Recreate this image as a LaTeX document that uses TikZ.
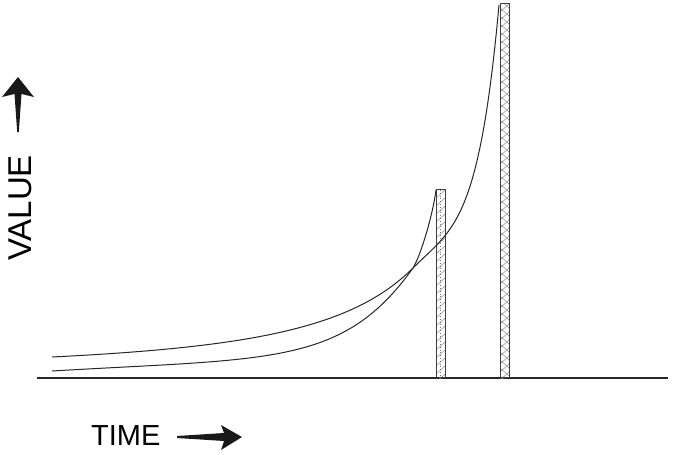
\documentclass[tikz,border=0pt]{standalone}
\usepackage{fontspec}
\setmainfont{Liberation Sans}
\begin{document}
\begin{tikzpicture}[x=1pt,y=-1pt,
  curve/.style={line width=1pt, black!85},
  barbox/.style={draw=black!75, line width=1pt},
  hatch/.style={black!45, line width=0.5pt},
  lbl/.style={inner sep=0pt, font=\fontsize{33}{33}\selectfont},
  arr/.style={fill=black!90, draw=none}]
\useasboundingbox (0,0) rectangle (686,455);
% baseline
\coordinate (b0) at (37,378);
\coordinate (b1) at (668,378);
\draw[line width=1.3pt, black!85] (b0) -- (b1);
% bar 1
\begin{scope}
\clip (436,190) rectangle (445,378);
\foreach \y in {186,194,...,380} {\draw[hatch] (436,\y+4) -- (445,\y-4);}
\draw[black!55, dotted, line width=0.8pt] (440.5,190) -- (440.5,378);
\end{scope}
\node[barbox, minimum width=9pt, minimum height=188pt, inner sep=0pt, anchor=south west] (bar1) at (436,378) {};
% bar 2
\begin{scope}
\clip (500,4) rectangle (509,378);
\foreach \y in {0,8,...,384} {\draw[hatch] (500,\y+4) -- (509,\y-4);\draw[hatch] (500,\y) -- (509,\y+8);}
\end{scope}
\node[barbox, minimum width=9pt, minimum height=374pt, inner sep=0pt, anchor=south west] (bar2) at (500,378) {};
% curves
\coordinate (pstart) at (52,371);
\coordinate (qstart) at (52,357);
\coordinate (cross) at (413,268);
\coordinate (pend) at (436,190);
\coordinate (qend) at (499,5);
\draw[curve] (pstart) .. controls (272,358) and (343,366) .. (cross)
  .. controls (421,255) and (433,214) .. (pend);
\draw[curve] (qstart) .. controls (252,347) and (353,328) .. (cross)
  .. controls (453,228) and (479,225) .. (qend);
% labels
\node[lbl, rotate=90] (vlabel) at (20,208) {VALUE};
\node[lbl, anchor=west, font=\fontsize{29}{29}\selectfont] (tlabel) at (91,436) {TIME};
% arrows
\fill[arr] (18,77) -- (34,97) -- (21.5,94) -- (18.8,132) -- (17.2,132) -- (14.5,94) -- (2,97) -- cycle;
\fill[arr] (242,437) -- (221,450) -- (224,441) -- (177,438) -- (177,436) -- (224,433) -- (221,425) -- cycle;
\end{tikzpicture}
\end{document}
